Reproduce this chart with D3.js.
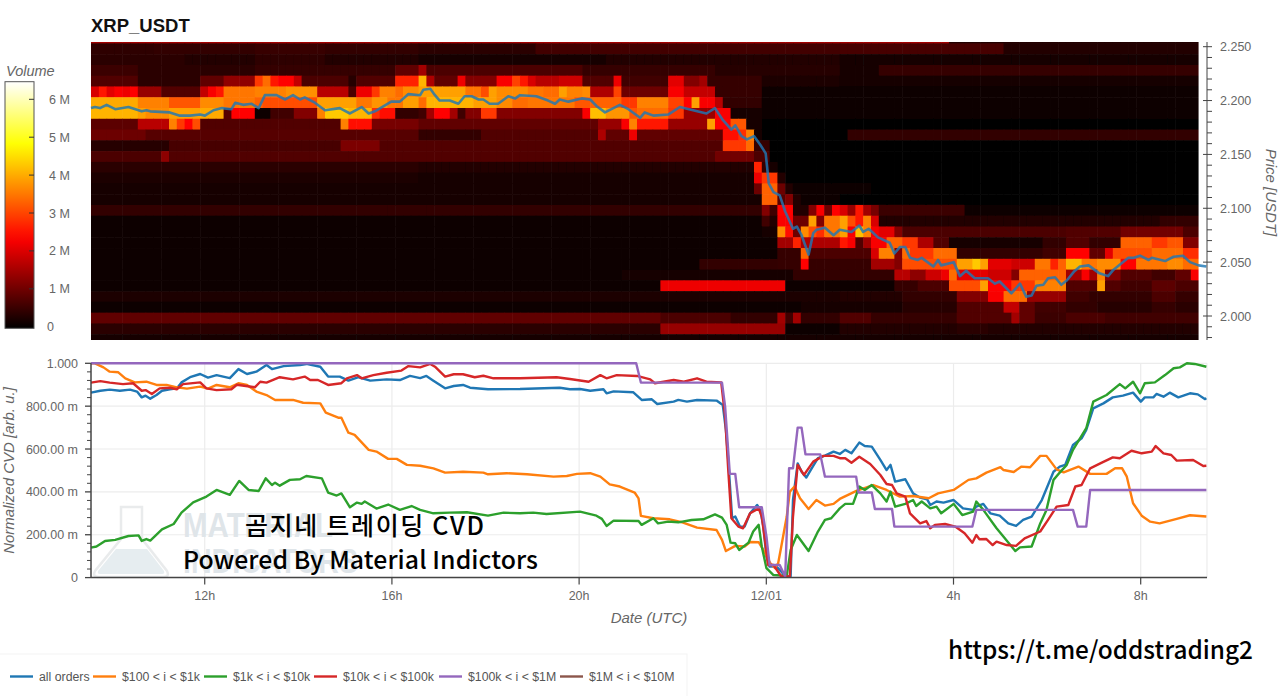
<!DOCTYPE html>
<html><head><meta charset="utf-8">
<script src="https://cdn.jsdelivr.net/npm/d3@7"></script>
<style>
html,body{margin:0;padding:0;background:#fff;overflow:hidden}
</style></head><body><svg id="c" width="1280" height="696" font-family="'Liberation Sans',Arial,sans-serif"></svg>
<script>
// ---------- DATA ----------
const title="XRP_USDT";
const startMs=Date.UTC(2024,10,30,9,34,12);   // first 10-minute slot
const slotCount=143.08;
const heatCols=142;
const topBinPrice=2.2631, binStep=0.01;
const priceMajor=[2.0,2.05,2.1,2.15,2.2,2.25];
const priceMinor=[1.98,1.99,2.01,2.02,2.03,2.04,2.06,2.07,2.08,2.09,2.11,2.12,2.13,2.14,2.16,2.17,2.18,2.19,2.21,2.22,2.23,2.24];
const volumeTicks=[0,1,2,3,4,5,6];
const volumeMax=6.46;
const cvdMajor=[0,.2,.4,.6,.8,1];
const cvdMinor=[.04,.08,.12,.16,.24,.28,.32,.36,.44,.48,.52,.56,.64,.68,.72,.76,.84,.88,.92,.96];
const timeTicks=[[2024,10,30,12,"12h"],[2024,10,30,16,"16h"],[2024,10,30,20,"20h"],[2024,11,1,0,"12/01"],[2024,11,1,4,"4h"],[2024,11,1,8,"8h"]];

// heat map: one list per price bin (top to bottom), each run = [end column, volume in M]
const heatRuns=[
[[110,1.5],[142,.3]],
[[8,.42],[21,.45],[30,.52],[42,.45],[57,.4],[96,.62],[117,.65],[142,.32]],
[[12,.4],[21,.3],[30,.42],[42,.3],[66,.22],[96,.3],[142,.18]],
[[6,.55],[21,.4],[39,.48],[42,.9],[43,1.5],[63,.7],[80,.5],[96,.35],[101,.2],[142,.5]],
[[6,.75],[14,.4],[17,.9],[21,1.33],[22,2.9],[23,3.4],[24,2.6],[26,2.4],[27,1.8],[33,.7],[34,.35],[39,.75],[42,2.7],[43,4.1],[44,1.6],[47,.9],[48,2.2],[52,1.2],[54,2.3],[55,3],[56,2.6],[57,2],[60,1.7],[63,1.9],[67,.75],[68,2.2],[74,.6],[76,2.1],[78,1.2],[79,1.5],[86,.5],[96,.25],[142,.2]],
[[1,2],[2,2.6],[3,2.1],[4,2.3],[5,2.2],[6,2.4],[9,1.4],[14,.75],[15,1.8],[16,2.3],[17,2.6],[21,3.5],[25,3.6],[29,3.75],[33,1.7],[34,.7],[36,2.2],[37,2.9],[39,3.6],[40,3.4],[42,3.7],[43,3.9],[48,3.9],[50,3.5],[51,3.1],[52,3.9],[56,3.7],[58,3.5],[60,3.4],[61,3.9],[63,3.6],[64,3.7],[67,1.6],[68,3],[74,1],[76,2.3],[78,1.8],[80,1.8],[86,.5],[96,.15],[142,.15]],
[[6,4],[10,3.6],[14,3.2],[17,3.7],[21,3.5],[22,3.3],[29,3.1],[34,3.9],[36,3.5],[38,3.8],[40,3.5],[42,3.9],[43,3.4],[49,4.1],[52,3.9],[54,3.7],[56,3.4],[62,3.5],[64,3.2],[68,3.3],[70,2.9],[74,3.6],[76,3],[77,2.4],[78,3.9],[80,2.3],[81,1.7],[86,.45],[96,.1],[142,.1]],
[[6,4.1],[7,3.9],[10,3.7],[14,3.9],[17,4],[18,.8],[21,2.4],[23,.15],[26,.6],[29,1.2],[30,3.6],[33,4.3],[36,4.1],[37,2.8],[39,2.5],[42,.45],[43,.6],[44,1.5],[46,2.4],[47,1.5],[48,.6],[50,1.2],[52,2.9],[63,1.2],[64,2.3],[66,4.2],[69,3.8],[70,3.2],[74,3.4],[76,2.9],[80,1.4],[82,2.3],[86,.2],[142,.1]],
[[6,.85],[10,1.7],[11,3.6],[12,2.9],[13,2.4],[14,3.1],[32,.75],[33,3.6],[36,2.5],[42,1.1],[65,.9],[68,1.4],[69,2.3],[70,3.6],[74,2.6],[79,1.4],[80,3.9],[82,2.4],[84,3.2],[86,.2],[142,.05]],
[[7,1],[42,.8],[50,.45],[65,.75],[66,1.6],[69,.9],[70,2.2],[81,.9],[83,2.5],[84,2.8],[85,3.6],[86,.2],[97,.05],[142,.45]],
[[10,.35],[32,.65],[37,1.15],[42,.75],[81,.75],[84,2.9],[85,3.4],[87,.5],[142,.03]],
[[9,.7],[10,1.3],[42,.75],[80,.75],[85,1.05],[87,.7],[142,.03]],
[[42,.4],[85,.3],[86,2.7],[87,.5],[88,.2],[142,.05]],
[[42,.25],[85,.2],[86,2.2],[88,2.9],[89,.3],[142,.05]],
[[85,.2],[86,1],[88,3.3],[89,1],[90,.3],[96,.1],[100,.15],[142,.05]],
[[86,.2],[88,3.3],[89,.8],[90,1.2],[91,.3],[96,.1],[142,.05]],
[[86,.45],[87,1.2],[88,.6],[90,2.4],[92,.3],[93,1.2],[94,2.3],[95,1],[96,2.4],[97,2],[98,1.4],[99,2.6],[100,1.5],[101,1.1],[112,.55],[142,.12]],
[[86,.15],[87,.6],[88,.3],[90,2.3],[92,1],[93,3.9],[94,1.2],[96,3.5],[97,3.9],[98,3.1],[99,2.6],[100,3.6],[101,2],[137,.3],[142,.45]],
[[86,.1],[88,.2],[89,3.7],[90,2.5],[91,1],[92,3.7],[93,3.1],[94,2.8],[96,3.5],[97,3.9],[98,2.3],[99,4.2],[100,3.6],[101,2.3],[103,2.1],[104,1.2],[125,.7],[132,.75],[140,1.05],[142,.7]],
[[88,.1],[90,1.5],[91,2.7],[96,1.6],[97,2.6],[98,2.3],[99,.75],[100,1.5],[102,2.3],[104,3.3],[106,2.9],[108,1.6],[110,.75],[122,.2],[125,.45],[128,.75],[132,.45],[136,3.3],[138,2.9],[140,3.2],[142,1.2]],
[[88,.1],[91,.5],[92,3.3],[100,.7],[101,2],[103,3.6],[104,1.2],[105,3.4],[108,2.9],[111,3.4],[122,.45],[125,.6],[128,2.4],[130,.9],[131,2.1],[136,3.1],[140,3.4],[142,2.8]],
[[78,.1],[88,.45],[91,.5],[92,2.4],[100,.5],[103,1.5],[104,1.2],[111,3.1],[113,3.9],[114,4.3],[115,3.9],[118,2.1],[121,1.9],[123,3.5],[124,2.7],[125,3.3],[127,4.1],[129,3.5],[132,3.7],[134,2.4],[138,3.5],[140,3.7],[142,3.4]],
[[68,.1],[90,.2],[103,.45],[105,1.7],[107,1.3],[109,1.9],[110,2.2],[111,3.4],[115,2.1],[118,1.9],[119,1.2],[125,3.3],[127,1.5],[128,2.3],[129,1.5],[130,3.6],[132,1.2],[136,.75],[139,.6],[141,.9],[142,2.3]],
[[73,.15],[89,2.2],[103,.15],[106,.5],[110,.7],[114,3.1],[115,3.9],[118,2.4],[121,2.9],[125,3.6],[129,.75],[130,3.9],[132,.75],[136,.6],[139,.85],[142,.7]],
[[96,.25],[104,.3],[111,.45],[115,1.2],[117,2.3],[120,3.4],[125,1.4],[128,.6],[130,.45],[136,.45],[139,.7],[142,.5]],
[[91,.15],[104,.22],[111,.35],[117,.75],[119,1.8],[121,.9],[125,.6],[129,.45],[136,.35],[139,.5],[142,.4]],
[[73,.9],[82,.7],[88,.45],[89,1.5],[90,.6],[91,1.5],[96,.45],[100,.75],[111,.5],[118,.75],[119,1.5],[121,.9],[125,.55],[130,.7],[142,.6]],
[[73,.4],[89,1.4],[96,.15],[111,.3],[115,.4],[142,.3]],
[[142,.18]]
];

// mid-price line: [slot, price]
const midPrice=[[0,2.193],[.5,2.194],[1.15,2.193],[2,2.196],[3.1,2.192],[4.8,2.194],[6.5,2.19],[7.1,2.191],[7.6,2.19],[10.1,2.189],[11.4,2.186],[12.7,2.186],[14,2.187],[14.6,2.186],[15.7,2.191],[16.8,2.193],[18,2.192],[18.5,2.198],[19.5,2.196],[20.6,2.197],[21.5,2.193],[22.3,2.205],[23.8,2.205],[24.9,2.201],[25.9,2.205],[26.8,2.201],[27.4,2.203],[28.7,2.198],[30,2.191],[31.9,2.193],[33.2,2.188],[34.7,2.194],[35.6,2.188],[36.4,2.19],[38.5,2.199],[39.6,2.199],[40.7,2.206],[42.2,2.205],[42.6,2.21],[43.5,2.211],[44.1,2.205],[44.7,2.2],[46,2.2],[47.1,2.197],[47.9,2.204],[48.8,2.204],[49.7,2.201],[50.3,2.201],[51.1,2.197],[52.2,2.197],[53.5,2.204],[54.4,2.202],[55,2.205],[57.1,2.204],[58.6,2.2],[59.5,2.197],[60.1,2.201],[61.2,2.199],[62.9,2.202],[64,2.201],[64.8,2.195],[65.9,2.189],[67.8,2.196],[68.9,2.192],[70.4,2.184],[71,2.189],[72.1,2.186],[74,2.187],[75.5,2.194],[77.2,2.191],[78.9,2.188],[80,2.193],[81,2.182],[82.1,2.173],[82.6,2.177],[83.4,2.167],[84.1,2.164],[85,2.167],[85.8,2.159],[86.5,2.151],[86.9,2.123],[87.5,2.115],[88.3,2.112],[89,2.097],[90,2.081],[90.5,2.083],[91.1,2.075],[92,2.057],[92.6,2.077],[93,2.08],[94.1,2.082],[95.2,2.075],[96,2.08],[97.5,2.078],[98.5,2.084],[99,2.078],[99.7,2.081],[100.9,2.073],[102.4,2.068],[103,2.058],[103.7,2.064],[104.4,2.064],[105,2.054],[106,2.052],[106.5,2.054],[108,2.046],[108.6,2.052],[109,2.047],[110.6,2.05],[111.4,2.037],[112.2,2.042],[113.3,2.035],[115,2.035],[115.9,2.03],[116.5,2.032],[118,2.021],[119.1,2.03],[119.9,2.018],[120.6,2.019],[121.2,2.028],[122.1,2.029],[122.7,2.035],[123.6,2.036],[124.4,2.029],[125.1,2.033],[126,2.041],[126.8,2.046],[127.9,2.047],[129.2,2.04],[130.4,2.037],[131.1,2.043],[133,2.054],[133.7,2.054],[134.5,2.056],[135.6,2.052],[136,2.054],[137.7,2.051],[138.8,2.055],[140,2.056],[140.9,2.05],[142,2.047],[143,2.046]];

// CVD series: [slot, normalised value x 1000]
const allOrders=[[0,863],[1.2,872],[2.4,877],[3.7,872],[5,877],[5.9,868],[6.5,841],[7,849],[7.6,835],[8.4,852],[9.1,872],[10.1,879],[11,883],[11.6,911],[12.7,935],[14,950],[15,933],[16.1,945],[17.8,931],[18.9,973],[20,950],[21.2,961],[22.5,992],[23.2,973],[24.7,987],[26.8,992],[27.6,997],[29.4,984],[30.4,938],[31.9,938],[33,919],[34.3,935],[35.8,919],[37.9,925],[39.6,922],[40.9,941],[42.2,931],[43,941],[43.9,919],[45.4,883],[46.5,894],[47.7,899],[48.6,886],[50.9,879],[55,880],[60.1,886],[61.4,879],[62.7,880],[64,872],[65.7,879],[66.1,860],[67,869],[69.5,865],[70.6,829],[71.9,832],[72.6,810],[74.7,821],[75.3,829],[76.4,821],[77.7,829],[80.2,826],[81,805],[81.4,689],[81.7,549],[82.2,277],[82.6,285],[83.2,238],[83.8,238],[84.5,300],[85.4,339],[85.8,316],[86.2,238],[86.6,98],[87,51],[87.9,51],[88.5,28],[89,5],[89.7,5],[90,362],[90.6,533],[91.1,494],[91.7,467],[92.4,510],[93.2,557],[94.1,569],[95.2,588],[96,577],[96.7,596],[97.5,580],[98.5,630],[99.2,614],[100.1,611],[101.2,549],[102,502],[102.5,526],[103.1,448],[104.4,459],[105.4,393],[106.3,373],[107.2,365],[107.6,339],[108.4,355],[109.3,350],[110.6,362],[111.8,323],[113.1,316],[113.5,331],[114.4,344],[115.3,300],[116.5,289],[117.6,253],[118.6,241],[119.5,269],[120.6,285],[121.9,362],[123.4,494],[124.2,518],[124.9,526],[125.9,619],[127,650],[127.6,689],[128.5,790],[129.8,813],[131,841],[132.3,849],[133.6,863],[134.6,821],[135.1,841],[136.2,841],[136.6,857],[137.5,844],[138.3,863],[139.4,841],[140.9,860],[141.9,855],[142.8,833],[143,837]];
const orders100to1k=[[0,1000],[.5,1000],[1.6,981],[2.4,961],[3.5,958],[4.4,930],[5.6,911],[7.1,914],[8.4,899],[9.7,899],[11,888],[12.3,882],[14,891],[15,882],[16.1,899],[17.8,888],[18.9,907],[20,899],[21.2,868],[22.5,852],[23.6,829],[25.9,829],[27.2,816],[29.4,813],[30.1,770],[31.7,746],[32.1,746],[33,676],[33.8,666],[35.6,596],[36.6,588],[38.1,554],[39.2,554],[40.5,526],[42.2,522],[43.9,510],[45.4,490],[47.7,494],[50.3,490],[50.9,482],[53.3,487],[55.9,482],[59.3,471],[61,474],[62.3,484],[64,487],[65.3,471],[66.5,435],[67.8,425],[69.7,397],[70.2,370],[70.5,288],[72.1,277],[74.2,272],[75.9,257],[77.7,233],[80.2,222],[80.9,176],[81.4,124],[82.6,148],[83.8,145],[84.5,166],[85.6,165],[86.2,129],[87.1,67],[87.7,44],[88.1,67],[88.5,145],[89.2,285],[89.6,401],[90.2,425],[90.9,370],[92,320],[93,362],[94.1,336],[95.2,344],[96,367],[98.2,406],[100.3,432],[102,409],[103.7,378],[105.4,381],[107.4,370],[108.6,393],[110.6,409],[112.5,456],[113.5,463],[114.8,490],[116.6,515],[117,502],[118.3,493],[119.3,518],[120.4,515],[121.7,568],[122.5,568],[123.8,505],[124.7,491],[126.6,518],[128.1,484],[130.2,484],[131.3,510],[132.2,510],[132.8,471],[133.6,347],[134.7,289],[135.8,261],[137,253],[139.2,274],[140.9,291],[143,285]];
const orders1kto10k=[[0,140],[.7,145],[1.8,171],[3.1,176],[4.8,194],[6.1,197],[6.5,171],[7.1,180],[7.6,173],[9.1,225],[10.6,250],[11.6,303],[13.1,351],[14.8,378],[16.1,409],[17.8,386],[19,451],[20.2,409],[21.5,404],[22.4,463],[23.2,432],[23.6,443],[24.2,429],[25.5,456],[26.8,459],[27.6,474],[29.6,463],[30.4,397],[31.5,383],[32.1,393],[33.2,328],[34.1,350],[34.7,344],[35.1,355],[36.6,322],[38.1,341],[39.6,316],[41.1,334],[42.2,316],[43.9,300],[46,303],[48.2,305],[50.9,289],[52.9,303],[55,300],[56.7,303],[58.4,297],[62.7,308],[64.8,289],[65.5,274],[66.1,241],[67,266],[70.2,264],[70.6,246],[72.1,277],[72.7,253],[74,261],[75.3,258],[77,269],[78.5,272],[80,295],[80.9,280],[81.5,246],[82,163],[82.6,160],[83.1,129],[84.3,163],[84.9,215],[85.6,246],[86,145],[86.6,44],[87.5,12],[89.2,8],[89.7,129],[90.5,199],[92,124],[93.2,215],[94.1,269],[94.9,277],[96,323],[96.7,344],[97.7,344],[98.5,425],[99.2,409],[100.1,432],[101.2,393],[102,355],[102.5,401],[103.1,331],[104.4,344],[105.4,362],[105.8,334],[106.5,355],[107.6,323],[108.4,331],[109,300],[110.6,344],[111.7,292],[113.1,308],[113.5,355],[114.4,316],[116.1,230],[118.5,124],[119.1,141],[120.6,145],[121.7,253],[122.5,316],[123.4,456],[124.2,490],[125.1,526],[125.9,596],[127.6,697],[128.5,821],[130.2,852],[131.9,903],[132.6,883],[133.6,914],[134.5,860],[135.1,907],[136.4,911],[137.7,945],[138.8,977],[139.6,981],[140.5,1000],[141.5,997],[143,984]];
const orders10kto100k=[[0,910],[1.2,917],[2.4,910],[4.1,903],[5.4,907],[6.5,872],[7,875],[7.8,857],[8.8,883],[10.1,886],[11,879],[11.8,903],[14,911],[14.8,883],[16.1,875],[18,879],[18.7,900],[21,888],[21.7,914],[22.5,910],[24.2,935],[25.9,925],[27.4,938],[28.1,922],[29.1,922],[30.4,899],[32.1,907],[32.8,930],[34.1,945],[34.7,930],[36.2,945],[37.9,956],[39.8,966],[40.7,987],[42.2,981],[43.5,997],[44.1,984],[45.4,938],[46.5,949],[47.7,949],[49.2,935],[50.3,942],[51.6,930],[55,930],[59.7,935],[61.4,927],[63.8,914],[65.3,945],[66.1,930],[67.4,945],[70,941],[71.7,925],[72.3,907],[74.7,922],[76,914],[77.7,930],[78.9,914],[80.8,911],[81.3,751],[81.7,502],[82.1,277],[83,238],[83.6,230],[84.5,300],[85.6,323],[86,285],[86.4,176],[86.8,59],[87.5,59],[88.5,5],[89.6,5],[90,285],[90.6,526],[91.4,479],[92.6,541],[93.9,568],[95.2,568],[96,557],[96.7,557],[97.5,536],[98.5,564],[99.9,530],[101.2,479],[102,437],[102.7,432],[103.3,393],[104.4,378],[105,300],[106.3,253],[107.1,264],[107.6,230],[108.2,246],[109.5,250],[110.8,238],[112,207],[113,163],[113.5,199],[113.9,179],[114.8,180],[115.6,152],[116.1,168],[117.4,152],[118.6,148],[119.7,183],[121.7,215],[122.7,269],[123.8,331],[125.3,339],[126.2,425],[127,432],[128.1,510],[129.4,533],[131,561],[131.9,557],[133.4,592],[134.7,580],[136,588],[136.5,614],[137.5,580],[138.5,572],[139.2,546],[141.3,549],[142.6,521],[143,522]];
const orders100kto1M=[[0,1000],[69.9,1000],[70.5,910],[80.9,910],[81.3,798],[81.9,484],[82.6,484],[83.1,328],[86,328],[86.6,191],[87,59],[88.3,59],[89,5],[89.5,510],[90,510],[90.6,700],[91.1,700],[91.6,575],[93.5,575],[94.1,471],[98.1,471],[98.4,397],[100.1,397],[100.5,320],[102.7,320],[103,238],[113,238],[113.5,316],[125.9,316],[126.5,238],[127.6,238],[128.1,409],[143,409]];
const orders1Mto10M=[];
const seriesNames=["all orders","$100 < i < $1k","$1k < i < $10k","$10k < i < $100k","$100k < i < $1M","$1M < i < $10M"];
const seriesValues=[allOrders,orders100to1k,orders1kto10k,orders10kto100k,orders100kto1M,orders1Mto10M];
const seriesColors=["#1f77b4","#ff7f0e","#2ca02c","#d62728","#9467bd","#8c564b"];

// ---------- DRAW ----------
const svg=d3.select("#c");
const slotMs=600000;
const when=s=>new Date(startMs+s*slotMs);
const X={l:91,r:1207};
const H={t:42,b:340}, C={t:363.3,b:577.6};
const x=d3.scaleUtc().domain([when(0),when(slotCount)]).range([X.l,X.r]);
const py=d3.scaleLinear().domain([2,2.25]).range([316,46.7]);
const cy=d3.scaleLinear().domain([0,1]).range([C.b,C.t]);
const hot=d3.scaleLinear().domain([0,.365*volumeMax,.746*volumeMax,volumeMax]).range(["#000000","#ff0000","#ffff00","#ffffff"]);
const vy=d3.scaleLinear().domain([0,6]).range([326.7,99.3]);
const defs=svg.append("defs");
defs.append("clipPath").attr("id","heatClip").append("rect").attr("x",X.l).attr("y",H.t).attr("width",x(when(heatCols))-X.l).attr("height",H.b-H.t);
defs.append("filter").attr("id","soft").attr("x",0).attr("y",0).attr("width",1).attr("height",1).append("feGaussianBlur").attr("stdDeviation",.55);

svg.append("text").attr("x",91).attr("y",32).attr("font-size",18.5).attr("font-weight",700).attr("fill","#111").text(title);

// heat cells
const cells=[];
heatRuns.forEach((runs,r)=>{let c=0;runs.forEach(([end,v])=>{for(;c<end;c++)cells.push({r,c,v});});});
svg.append("g").attr("clip-path","url(#heatClip)").append("g").attr("filter","url(#soft)")
 .selectAll("rect").data(cells).join("rect")
 .attr("x",d=>x(when(d.c))).attr("width",d=>x(when(d.c+1))-x(when(d.c))+.6)
 .attr("y",d=>py(topBinPrice-d.r*binStep)).attr("height",d=>py(topBinPrice-(d.r+1)*binStep)-py(topBinPrice-d.r*binStep)+.6)
 .attr("fill",d=>hot(d.v));

// mid price
svg.append("path").datum(midPrice).attr("fill","none").attr("stroke","#1f77b4").attr("stroke-opacity",.82).attr("stroke-width",2.6).attr("stroke-linejoin","round")
 .attr("d",d3.line().x(d=>x(when(d[0]))).y(d=>py(d[1])));

// price axis
const tickColor="#444", labelColor="#666";
const pa=svg.append("g").attr("transform",`translate(${X.r},0)`);
pa.append("line").attr("y1",H.t).attr("y2",H.b).attr("stroke",tickColor);
pa.selectAll(".mi").data(priceMinor).join("line").attr("x1",0).attr("x2",5).attr("y1",d=>py(d)).attr("y2",d=>py(d)).attr("stroke",tickColor);
pa.selectAll(".ma").data(priceMajor).join("line").attr("x1",-4).attr("x2",5).attr("y1",d=>py(d)).attr("y2",d=>py(d)).attr("stroke",tickColor);
pa.selectAll("text").data(priceMajor).join("text").attr("x",13).attr("y",d=>py(d)+4.5).attr("font-size",12.5).attr("fill",labelColor).text(d=>d.toFixed(3));
svg.append("text").attr("transform","translate(1266,192.5) rotate(90)").attr("text-anchor","middle").attr("font-size",15).attr("font-style","italic").attr("fill",labelColor).text("Price [USDT]");

// colour bar
const grad=defs.append("linearGradient").attr("id","hotGrad").attr("x1",0).attr("x2",0).attr("y1",1).attr("y2",0);
d3.range(0,1.0001,.05).forEach(t=>grad.append("stop").attr("offset",t).attr("stop-color",hot(t*volumeMax)));
const barTop=81.7, barBot=328.3;
svg.append("rect").attr("x",5).attr("y",barTop).attr("width",29).attr("height",barBot-barTop).attr("fill","url(#hotGrad)").attr("stroke","#555").attr("stroke-width",1);
const vt=svg.append("g");
vt.selectAll("line").data(volumeTicks.slice(1)).join("line").attr("x1",29).attr("x2",34).attr("y1",d=>vy(d)).attr("y2",d=>vy(d)).attr("stroke","#333");
vt.selectAll("text").data(volumeTicks).join("text").attr("x",d=>d===0?47:49).attr("y",d=>vy(d)+4.5).attr("font-size",12.5).attr("fill",labelColor).text(d=>d===0?"0":d+" M");
svg.append("text").attr("x",6).attr("y",76).attr("font-size",14.5).attr("font-style","italic").attr("fill",labelColor).text("Volume");

// CVD grid
const grid=svg.append("g").attr("stroke","#ececec").attr("stroke-width",1.2);
grid.selectAll(".h").data(cvdMajor).join("line").attr("x1",X.l).attr("x2",X.r).attr("y1",d=>cy(d)).attr("y2",d=>cy(d));
const tickDates=timeTicks.map(t=>new Date(Date.UTC(t[0],t[1],t[2],t[3])));
grid.selectAll(".v").data(tickDates).join("line").attr("x1",d=>x(d)).attr("x2",d=>x(d)).attr("y1",C.t).attr("y2",C.b);
grid.append("line").attr("x1",X.r).attr("x2",X.r).attr("y1",C.t).attr("y2",C.b);

// watermark
const wm=svg.append("g").attr("fill","#dfe5e9");
wm.append("path").attr("fill","none").attr("stroke","#e9ebec").attr("stroke-width",2.5).attr("d","M121 507h21v32l25 32q3 6-4 6H99q-7 0-4-6l26-32z");
wm.append("path").attr("fill","#e6edf0").attr("d","M116 549h31l17 22q1 3-2 3H100q-3 0-2-3z");
wm.append("text").attr("x",183).attr("y",537).attr("font-size",35).attr("font-weight",700).attr("textLength",150).attr("lengthAdjust","spacingAndGlyphs").text("MATERIAL");
wm.append("text").attr("x",183).attr("y",573).attr("font-size",35).attr("font-weight",700).attr("textLength",175).attr("lengthAdjust","spacingAndGlyphs").text("INDICATORS");

// CVD lines
const line=d3.line().x(d=>x(when(d[0]))).y(d=>cy(d[1]/1000));
svg.append("g").selectAll("path").data(seriesValues.filter(s=>s.length)).join("path")
 .attr("fill","none").attr("stroke",(d,i)=>seriesColors[i]).attr("stroke-width",2.4).attr("stroke-linejoin","round").attr("d",line);

// CVD axes
const la=svg.append("g").attr("transform",`translate(${X.l},0)`);
la.append("line").attr("y1",C.t).attr("y2",C.b).attr("stroke",tickColor).attr("stroke-width",1.5);
la.selectAll(".mi").data(cvdMinor).join("line").attr("x1",-4).attr("x2",0).attr("y1",d=>cy(d)).attr("y2",d=>cy(d)).attr("stroke",tickColor);
la.selectAll(".ma").data(cvdMajor).join("line").attr("x1",-6).attr("x2",0).attr("y1",d=>cy(d)).attr("y2",d=>cy(d)).attr("stroke",tickColor).attr("stroke-width",1.3);
const fmtCvd=d=>d===1?"1.000":d===0?"0":(d*1000).toFixed(2)+" m";
la.selectAll("text").data(cvdMajor).join("text").attr("x",-13).attr("y",d=>cy(d)+4.5).attr("text-anchor","end").attr("font-size",12.5).attr("fill",labelColor).text(fmtCvd);
const ba=svg.append("g").attr("transform",`translate(0,${C.b})`);
ba.append("line").attr("x1",X.l).attr("x2",X.r).attr("stroke",tickColor).attr("stroke-width",1.5);
ba.selectAll("line.t").data(tickDates).join("line").attr("class","t").attr("x1",d=>x(d)).attr("x2",d=>x(d)).attr("y1",0).attr("y2",7).attr("stroke",tickColor).attr("stroke-width",1.2);
ba.selectAll("text").data(timeTicks).join("text").attr("x",(d,i)=>x(tickDates[i])).attr("y",22).attr("text-anchor","middle").attr("font-size",12.5).attr("fill",labelColor).text(d=>d[4]);
svg.append("text").attr("x",649).attr("y",623).attr("text-anchor","middle").attr("font-size",15).attr("font-style","italic").attr("fill",labelColor).text("Date (UTC)");
svg.append("text").attr("transform","translate(14,470.5) rotate(-90)").attr("text-anchor","middle").attr("font-size",15).attr("font-style","italic").attr("fill",labelColor).text("Normalized CVD [arb. u.]");

// annotations
const ann="'Noto Sans CJK KR','Noto Sans',sans-serif";
const note=(px,py0,s,fs,len)=>svg.append("text").attr("x",px).attr("y",py0).attr("font-family",ann).attr("font-size",fs).attr("font-weight",500).attr("fill","#000").attr("textLength",len).attr("lengthAdjust","spacing").text(s);
note(245,535,"곰지네 트레이딩 CVD",25,239);
note(183,569,"Powered By Material Indictors",24.8,355);
note(948,659,"https://t.me/oddstrading2",24.4,305);

// legend
svg.append("rect").attr("x",-2).attr("y",654).attr("width",689).attr("height",50).attr("fill","#fff").attr("stroke","#f3f3f3");
const legendSwatch=[10,93,204,314,439,560];
const lg=svg.append("g").selectAll("g").data(seriesNames).join("g").attr("transform",(d,i)=>`translate(${legendSwatch[i]},676.5)`);
lg.append("line").attr("x2",23).attr("stroke",(d,i)=>seriesColors[i]).attr("stroke-width",2.4);
lg.append("text").attr("x",29).attr("y",4.2).attr("font-size",12.3).attr("fill","#555").text(d=>d);
</script></body></html>
